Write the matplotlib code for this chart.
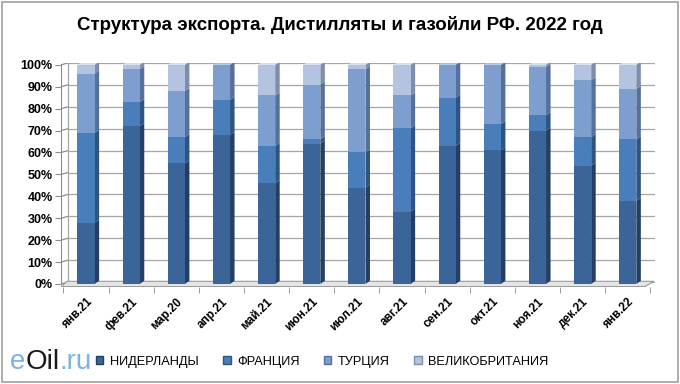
import matplotlib.pyplot as plt
from matplotlib.patches import Polygon, Rectangle
from matplotlib.ticker import FuncFormatter
import numpy as np

months = ["янв.21", "фев.21", "мар.20", "апр.21", "май.21", "июн.21", "июл.21",
          "авг.21", "сен.21", "окт.21", "ноя.21", "дек.21", "янв.22"]
netherlands = [28, 72, 55, 68, 46, 64, 44, 33, 63, 61, 70, 54, 38]
france = [41, 11, 12, 16, 17, 2, 16, 38, 22, 12, 7, 13, 28]
turkey = [27, 15, 21, 16, 23, 25, 38, 15, 15, 27, 22, 26, 23]
britain = [4, 2, 12, 0, 14, 9, 2, 14, 0, 0, 1, 7, 11]
series_names = ["НИДЕРЛАНДЫ", "ФРАНЦИЯ", "ТУРЦИЯ", "ВЕЛИКОБРИТАНИЯ"]

front = ["#3B6499", "#4A7EBB", "#7E9ECF", "#B3C3E0"]
side = ["#243F63", "#2E5482", "#55709A", "#7E8EAA"]
top = ["#6F8FBF", "#7AA0D2", "#A9BFE2", "#D3DDEE"]

plt.rcParams["font.family"] = ["Liberation Sans", "DejaVu Sans"]

fig = plt.figure(figsize=(6.8, 3.84), dpi=100)
fig.patches.append(Rectangle((0.003, 0.004), 0.994, 0.99, transform=fig.transFigure,
                             fill=False, edgecolor="#A0A0A0", lw=1.2))
ax = fig.add_axes([0.09, 0.252, 0.873, 0.585])

x = np.arange(len(months))
w = 0.38
dx, dy = 0.1, 1.4

ax.set_xlim(-0.55, len(months) - 0.4)
ax.set_ylim(-1.5, 101)

# back-wall gridlines and connectors
for v in range(0, 101, 10):
    ax.plot([-0.5 + dx, len(months) - 0.4], [v + dy * 0.6, v + dy * 0.6], color="#A6A6A6", lw=0.9, zorder=1)
    ax.plot([-0.55, -0.5 + dx], [v, v + dy * 0.6], color="#8C8C8C", lw=0.9, zorder=1)
ax.plot([-0.5 + dx, -0.5 + dx], [0, 100 + dy * 0.6], color="#A6A6A6", lw=0.9, zorder=1)

# floor
ax.add_patch(Polygon([(-0.55, -1.2), (len(months) - 0.62, -1.2),
                      (len(months) - 0.42, 1.2), (-0.42, 1.2)],
                     closed=True, facecolor="#E4E4E4", edgecolor="#9A9A9A", lw=0.8, zorder=2))

bottom = np.zeros(len(months))
for k, vals in enumerate([netherlands, france, turkey, britain]):
    vals = np.array(vals, dtype=float)
    for i in range(len(months)):
        if vals[i] <= 0:
            continue
        y0, y1 = bottom[i], bottom[i] + vals[i]
        xl, xr = x[i] - w / 2, x[i] + w / 2
        ax.add_patch(Polygon([(xr, y0), (xr + dx, y0 + dy), (xr + dx, y1 + dy), (xr, y1)],
                             closed=True, facecolor=side[k], edgecolor="none", zorder=3))
        ax.add_patch(Rectangle((xl, y0), w, vals[i], facecolor=front[k], edgecolor="none", zorder=4))
    bottom += vals
for i in range(len(months)):
    # top face of each stack uses the colour of its last non-zero segment
    segs = [netherlands[i], france[i], turkey[i], britain[i]]
    k = max(j for j, s in enumerate(segs) if s > 0)
    xl, xr = x[i] - w / 2, x[i] + w / 2
    ax.add_patch(Polygon([(xl, bottom[i]), (xr, bottom[i]), (xr + dx, bottom[i] + dy),
                          (xl + dx, bottom[i] + dy)], closed=True,
                         facecolor=top[k], edgecolor="none", zorder=5))

for s in ["top", "right"]:
    ax.spines[s].set_visible(False)
ax.spines["bottom"].set_visible(False)
ax.spines["left"].set_color("#8C8C8C")
ax.spines["left"].set_bounds(0, 100)

ax.set_yticks(range(0, 101, 10))
ax.yaxis.set_major_formatter(FuncFormatter(lambda v, p: f"{int(v)}%"))
ax.tick_params(axis="y", length=4, color="#8C8C8C", labelsize=9, pad=2)
for lab in ax.get_yticklabels():
    lab.set_fontweight("bold")

ax.set_xticks(x)
ax.set_xticklabels(months, rotation=45, ha="right", rotation_mode="anchor",
                   fontsize=8.5, fontweight="bold")
ax.tick_params(axis="x", length=0, pad=6)
ax.set_xticks(np.arange(len(months) + 1) - 0.5, minor=True)
ax.tick_params(axis="x", which="minor", length=4, color="#8C8C8C")

fig.text(0.5, 0.935, "Структура экспорта. Дистилляты и газойли РФ. 2022 год",
         ha="center", va="center", fontsize=13.5, fontweight="bold")

# legend
handles = [Rectangle((0, 0), 1, 1, facecolor=front[k], edgecolor=side[k]) for k in range(4)]
fig.legend(handles, series_names, loc="center left", bbox_to_anchor=(0.124, 0.058),
           ncol=4, frameon=False, fontsize=9.2,
           handlelength=0.6, handleheight=0.6, handletextpad=0.5, columnspacing=1.9)

# site logo
t1 = fig.text(0.015, 0.058, "e", color="#7FB2E0", fontsize=20, va="center")
t2 = plt.annotate("Oil", xy=(1, 0), xycoords=t1, va="bottom", color="#1A1A1A", fontsize=20)
t3 = plt.annotate(".ru", xy=(1, 0), xycoords=t2, va="bottom", color="#7FB2E0", fontsize=20)

fig.savefig("out.png", dpi=100)
